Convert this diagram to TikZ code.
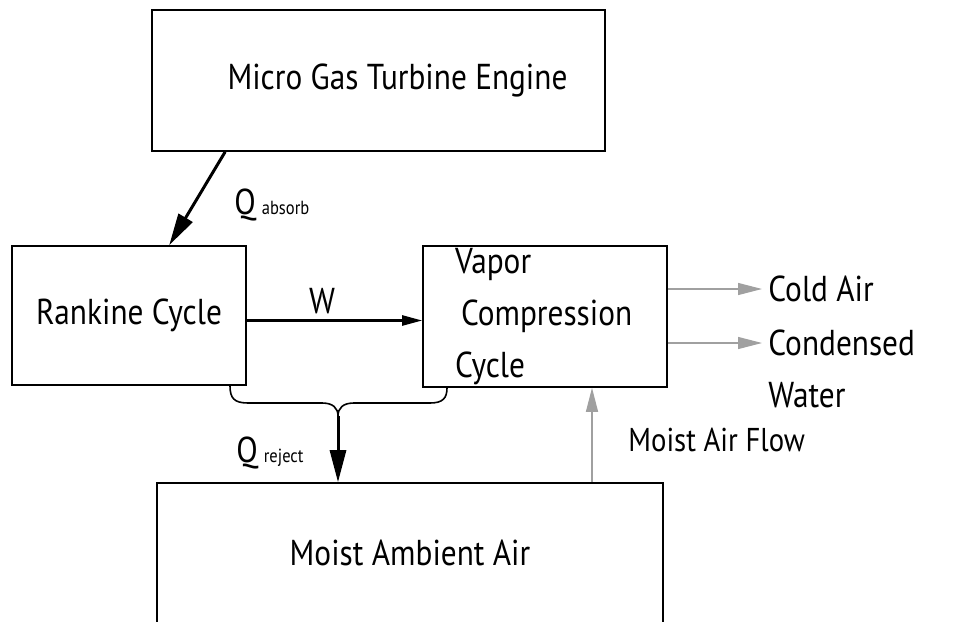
\documentclass[tikz,border=0pt]{standalone}
\usepackage{fontspec}
\setmainfont{PT Sans}[FakeStretch=0.87]
\usetikzlibrary{arrows.meta, positioning}
\definecolor{flowGray}{RGB}{160,160,160}
\tikzset{
  block/.style={draw, line width=0.8pt, font=\fontsize{18}{26}\selectfont, inner sep=0pt},
  tag/.style={font=\fontsize{18}{26}\selectfont, inner sep=3pt},
  heat/.style={-{Triangle[length=16pt, width=8pt]}, line width=1.5pt},
  work/.style={-{Triangle[length=10pt, width=5pt]}, line width=1.2pt},
  airflow/.style={-{Triangle[length=12pt, width=6pt]}, line width=0.6pt, flowGray},
  brace/.style={line width=0.8pt},
}
\newcommand{\subtag}[1]{\hspace{3pt}{\fontsize{9.5}{11}\selectfont #1}}

\begin{document}
\begin{tikzpicture}[x=0.5pt, y=-0.5pt]
    \useasboundingbox (0,0) rectangle (963,621);
    \node[block, minimum width=226.5pt, minimum height=70.5pt] (engine) at (378.5,80.5) {\hspace*{19pt}Micro Gas Turbine Engine};
    \node[block, minimum width=117pt, minimum height=69.5pt] (rankine) at (129,315.5) {Rankine Cycle};
    \node[block, minimum width=122pt, minimum height=70.5pt, align=left, text width=90pt, inner xsep=16pt] (vapor) at (545,316.5)
      {Vapor\\\mbox{\hspace*{3pt}Compression}\\Cycle};
    \node[block, minimum width=253pt, minimum height=70pt] (ambient) at (410,553) {Moist Ambient Air};
    \node[tag, anchor=west] (cold) at (762,289) {Cold Air};
    \node[tag, anchor=north west, align=left] (water) at (762,323) {Condensed\\Water};
    \coordinate (cwIn) at (762,343);
    \node[tag, anchor=west] (qabs) at (228,205) {Q\subtag{absorb}};
    \node[tag, anchor=west] (qrej) at (230,453) {Q\subtag{reject}};
    \node[tag] (w) at (322,301) {W};
    \node[tag, anchor=west, font=\fontsize{16.5}{20}\selectfont] (air) at (622,440) {Moist Air Flow};
    \coordinate (airx) at (592,0);
    \coordinate (bl) at (230,0);
    \coordinate (br) at (447,0);
    \coordinate (qr) at (338,416);
    \draw[heat] ([xshift=37pt]engine.south west) -- ([xshift=79pt]rankine.north west);
    \draw[work] ([yshift=-2.5pt]rankine.east) -- ([yshift=-2.5pt]rankine.east -| vapor.west);
    \draw[airflow] (vapor.east |- cold.west) -- (cold.west);
    \draw[airflow] (vapor.east |- cwIn) -- (cwIn);
    \draw[airflow] (ambient.north -| airx) -- (vapor.south -| airx);
    % heat rejected by both cycles
    \draw[brace] (rankine.south -| bl) .. controls (230,398) and (234,403) .. (248,403) -- (322,403)
      .. controls (333,403) and (338,408) .. (qr) .. controls (338,408) and (343,403) .. (354,403) -- (430,403)
      .. controls (443,403) and (447,398) .. (vapor.south -| br);
    \draw[heat] (qr) -- (ambient.north -| qr);
  \end{tikzpicture}
\end{document}
